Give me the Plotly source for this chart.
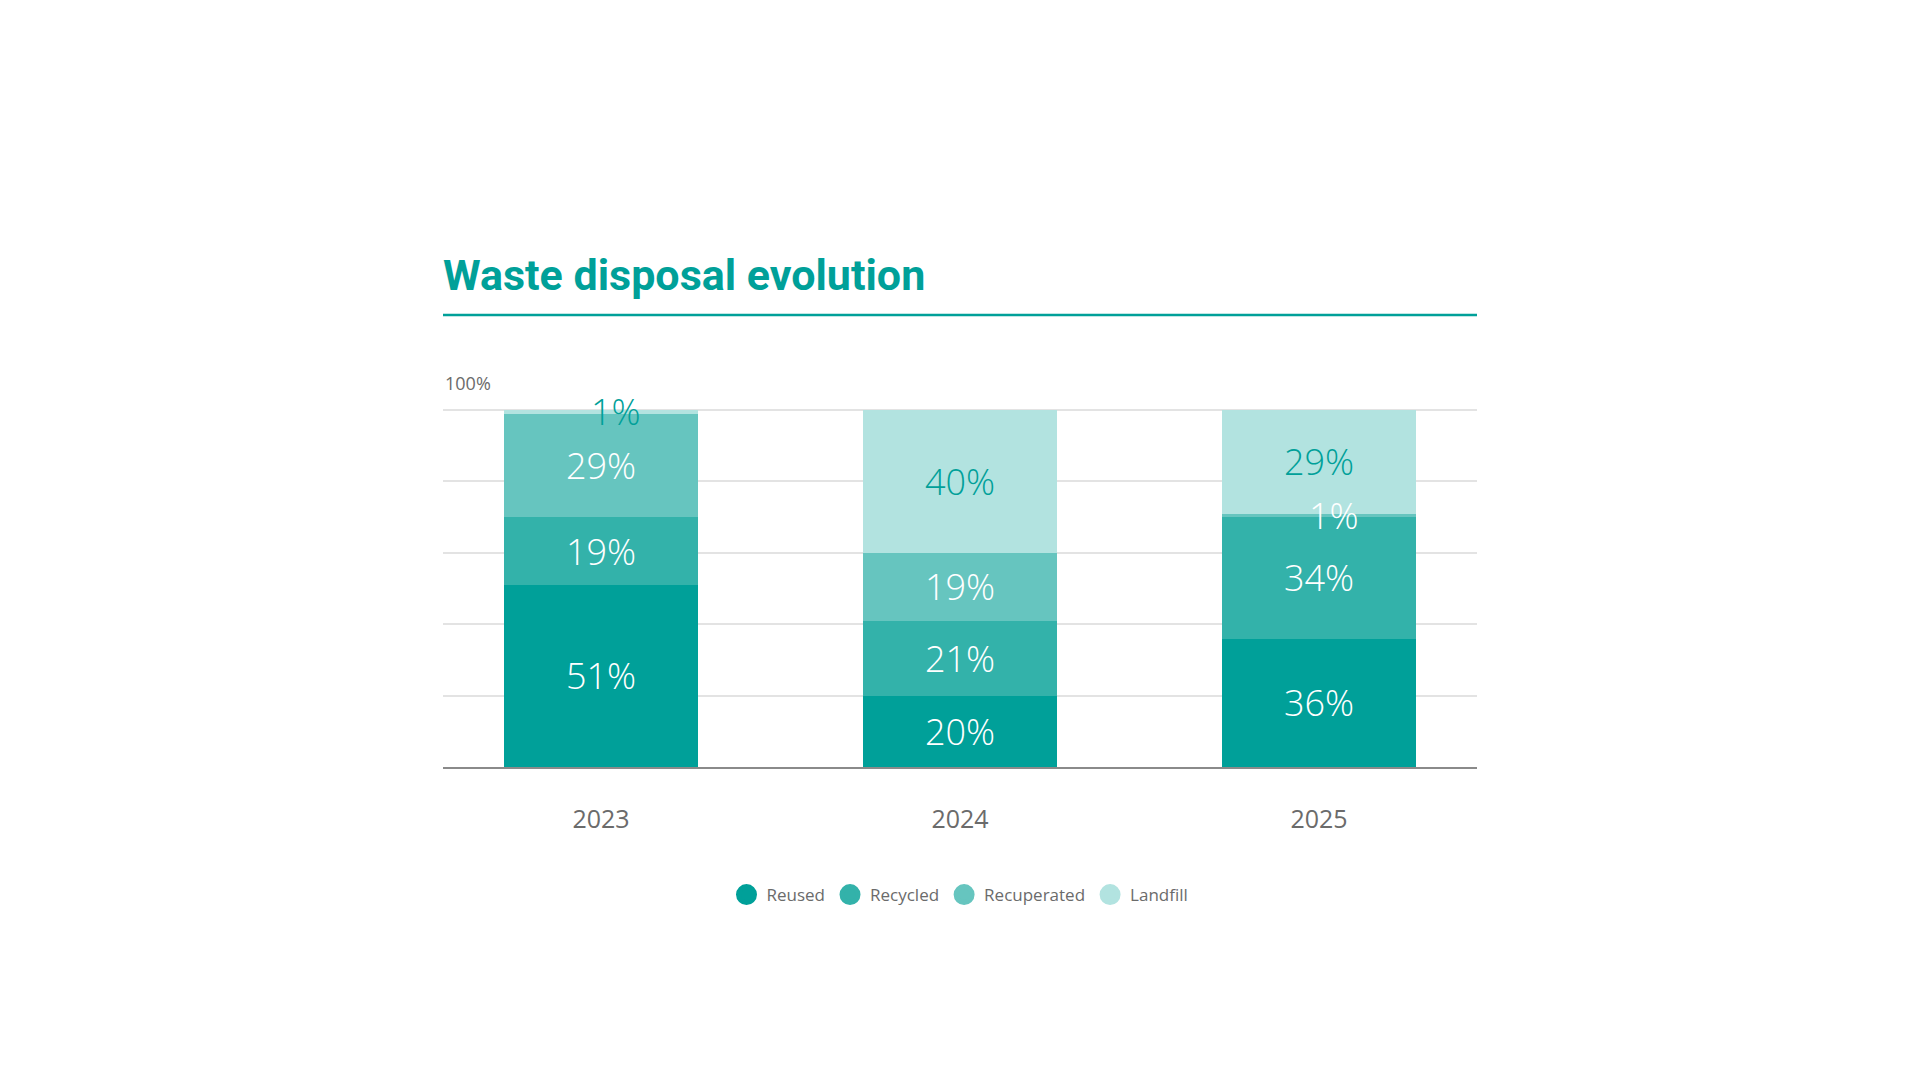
import plotly.graph_objects as go

years = ["2023", "2024", "2025"]
series_names = ["Reused", "Recycled", "Recuperated", "Landfill"]
reused = [51, 20, 36]
recycled = [19, 21, 34]
recuperated = [29, 19, 1]
landfill = [1, 40, 29]
y_ticks = [0, 20, 40, 60, 80, 100]

colors = ["#00A099", "#33B2AA", "#66C5BF", "#B2E3E0"]
label_colors = ["white", "white", "white", "#00A099"]
values = [reused, recycled, recuperated, landfill]

LABEL_FONT = "Open Sans"
fig = go.Figure()
annotations = []
base = [0, 0, 0]
for name, vals, col, lcol in zip(series_names, values, colors, label_colors):
    texts = [f"{v}%" if v >= 3 else "" for v in vals]
    fig.add_trace(go.Bar(
        x=years, y=vals, name=name, marker=dict(color=col, line=dict(width=0)),
        text=texts, textposition="inside", insidetextanchor="middle", textangle=0,
        textfont=dict(family=LABEL_FONT, size=36, color=lcol, weight=300),
        width=0.54, showlegend=False,
    ))
    # legend entry with a circular swatch
    fig.add_trace(go.Scatter(
        x=[None], y=[None], mode="markers", name=name,
        marker=dict(symbol="circle", size=16, color=col, line=dict(color=col, width=5)),
        showlegend=True,
    ))
    for i, v in enumerate(vals):
        if v < 3:
            annotations.append(dict(
                x=i, y=base[i] + v / 2, xref="x", yref="y",
                text=f"{v}%", showarrow=False, xshift=15,
                font=dict(family=LABEL_FONT, size=36, color=lcol, weight=300),
            ))
    base = [b + v for b, v in zip(base, vals)]

annotations.append(dict(
    x=0, y=100, xref="paper", yref="y", text="100%", showarrow=False,
    xanchor="left", yanchor="bottom", yshift=13, xshift=0,
    font=dict(family=LABEL_FONT, size=18, color="#6b6b6b"),
))

fig.update_layout(
    barmode="stack",
    width=1920, height=1080,
    paper_bgcolor="white", plot_bgcolor="white",
    margin=dict(l=443, r=443, t=409, b=313, autoexpand=False),
    title=dict(
        text="<b>Waste disposal evolution</b>",
        x=443 / 1920, xanchor="left", xref="container",
        y=1 - 275 / 1080, yanchor="middle", yref="container",
        font=dict(family="Roboto, sans-serif", size=43, color="#00A099"),
    ),
    xaxis=dict(
        type="category", range=[-0.44, 2.44],
        showline=True, linecolor="#8a8a8a", linewidth=2,
        ticks="outside", ticklen=29, tickcolor="rgba(0,0,0,0)",
        tickfont=dict(family=LABEL_FONT, size=25, color="#6b6b6b"),
        showgrid=False, fixedrange=True,
    ),
    yaxis=dict(
        range=[0, 100.3], tickvals=y_ticks, showticklabels=False,
        showgrid=True, gridcolor="#e3e3e3", gridwidth=1.5,
        zeroline=False, showline=False, fixedrange=True,
    ),
    legend=dict(
        orientation="h", x=0.5, xanchor="center", y=(767 - 895) / 358, yanchor="middle",
        font=dict(family=LABEL_FONT, size=17, color="#6b6b6b"),
        itemsizing="trace", traceorder="normal",
    ),
    annotations=annotations,
    shapes=[dict(
        type="line", xref="paper", yref="paper",
        x0=0, x1=1, y0=(767 - 315) / 358, y1=(767 - 315) / 358,
        line=dict(color="#00A099", width=2.5),
    )],
    showlegend=True,
)

fig.write_html("out.html")
